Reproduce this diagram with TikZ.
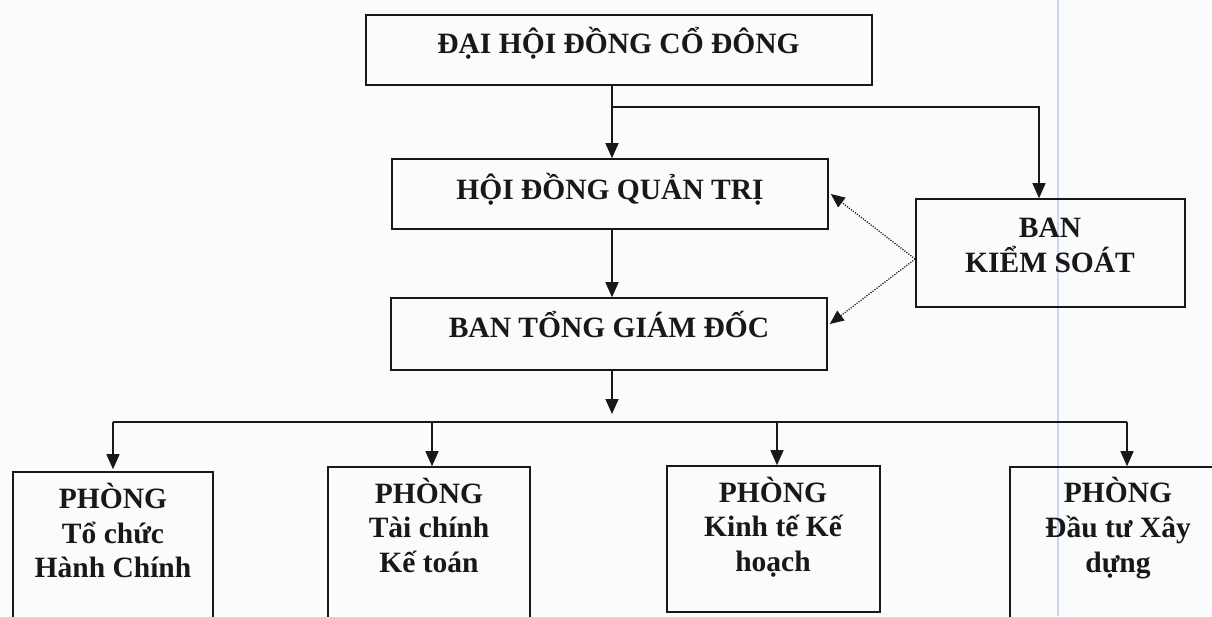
\documentclass[tikz,border=0pt]{standalone}
\usepackage{fontspec}
\setmainfont{Liberation Serif}
\usetikzlibrary{arrows.meta}
\definecolor{ink}{RGB}{24,24,24}
\definecolor{paper}{RGB}{250,251,252}
\definecolor{scanblue}{RGB}{205,212,242}
\tikzset{
  boxnode/.style={draw=ink, line width=1.6pt, rectangle, inner sep=0pt},
  txt/.style={anchor=base, inner sep=0pt, text=ink, font=\fontsize{29.5}{34}\selectfont\bfseries},
  conn/.style={draw=ink, line width=1.3pt, -{Triangle[length=15pt,width=13pt]}},
  plain/.style={draw=ink, line width=1.3pt},
  dotconn/.style={draw=ink, line width=1.3pt, dash pattern=on 1.1pt off 1.4pt, -{Triangle[length=14pt,width=12pt]}}
}
\begin{document}
\begin{tikzpicture}[x=1pt,y=-1pt]
\useasboundingbox (0,0) rectangle (1212,616);
\fill[paper] (0,0) rectangle (1212,616);
\clip (0,0) rectangle (1212,616);
\draw[scanblue, line width=2pt] (1058,0) -- (1058,616);
% boxes
\node[boxnode, minimum width=506pt, minimum height=70pt] (agm) at (619,50) {};
\node[boxnode, minimum width=436pt, minimum height=70pt] (hdqt) at (610,194) {};
\node[boxnode, minimum width=436pt, minimum height=72pt] (btgd) at (609,334) {};
\node[boxnode, minimum width=269pt, minimum height=108pt] (bks) at (1050.5,253) {};
\node[boxnode, minimum width=200pt, minimum height=180pt] (p1) at (113,562) {};
\node[boxnode, minimum width=202pt, minimum height=185pt] (p2) at (429,559.5) {};
\node[boxnode, minimum width=213pt, minimum height=146pt] (p3) at (773.5,539) {};
\node[boxnode, minimum width=234pt, minimum height=185pt] (p4) at (1127,559.5) {};
% texts
\node[txt] (agmT) at (618.5,53) {ĐẠI HỘI ĐỒNG CỔ ĐÔNG};
\node[txt] (hdqtT) at (610,199) {HỘI ĐỒNG QUẢN TRỊ};
\node[txt] (btgdT) at (609,337) {BAN TỔNG GIÁM ĐỐC};
\node[txt] (bksA) at (1050,237) {BAN};
\node[txt] (bksB) at (1050,272) {KIỂM SOÁT};
\node[txt] (p1a) at (113,508) {PHÒNG};
\node[txt] (p1b) at (113,543) {Tổ chức};
\node[txt] (p1c) at (113,577) {Hành Chính};
\node[txt] (p2a) at (429,503) {PHÒNG};
\node[txt] (p2b) at (429,537) {Tài chính};
\node[txt] (p2c) at (429,572) {Kế toán};
\node[txt] (p3a) at (773,502) {PHÒNG};
\node[txt] (p3b) at (773,536) {Kinh tế Kế};
\node[txt] (p3c) at (773,571) {hoạch};
\node[txt] (p4a) at (1118,502) {PHÒNG};
\node[txt] (p4b) at (1118,537) {Đầu tư Xây};
\node[txt] (p4c) at (1118,572) {dựng};
% connectors top
\coordinate (j1) at (612,107);
\draw[conn] (j1 |- agm.south) -- (j1 |- hdqt.north);
\draw[conn] (j1) -| ([xshift=-11.5pt]bks.north);
\draw[conn] (j1 |- hdqt.south) -- (j1 |- btgd.north);
% dotted
\draw[dotconn] ([yshift=-6pt]bks.west) -- ([xshift=2pt]hdqt.east);
\draw[dotconn] ([yshift=-6pt]bks.west) -- ([xshift=2pt,yshift=10pt]btgd.east);
% bottom bus
\coordinate (bus) at (612,422);
\draw[conn] (j1 |- btgd.south) -- (612,414);
\draw[plain] (p1.north |- bus) -- (p4.north |- bus);
\draw[conn] (p1.north |- bus) -- ([yshift=2pt]p1.north);
\draw[conn] ([xshift=3pt]p2.north |- bus) -- ([xshift=3pt]p2.north);
\draw[conn] ([xshift=3.5pt]p3.north |- bus) -- ([xshift=3.5pt]p3.north);
\draw[conn] (p4.north |- bus) -- (p4.north);
\end{tikzpicture}
\end{document}
